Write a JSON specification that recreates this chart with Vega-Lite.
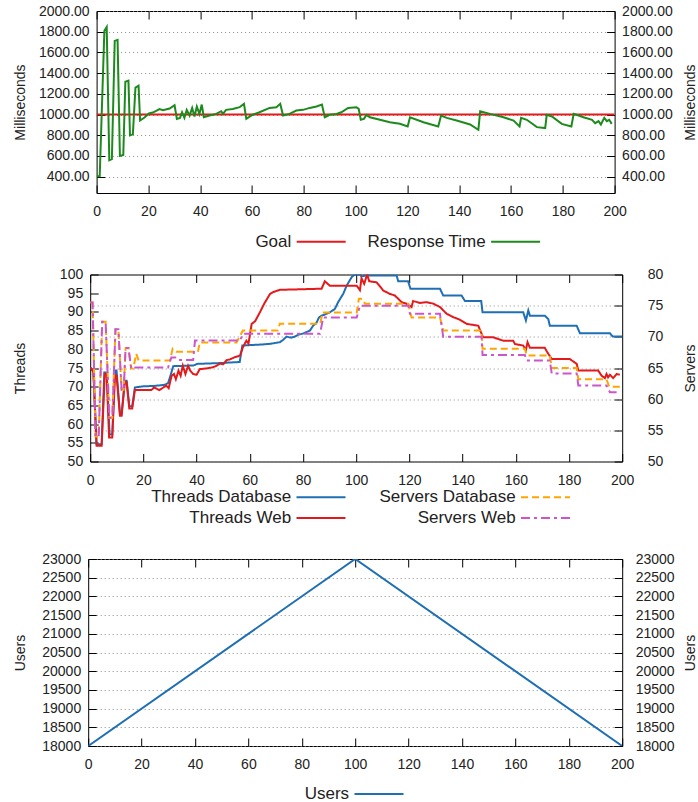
{
  "$schema": "https://vega.github.io/schema/vega-lite/v6.json",
  "padding": {"left": 13, "top": 3, "right": 0, "bottom": 0},
  "spacing": 15.5,
  "center": true,
  "resolve": {"scale": {"color": "independent", "strokeDash": "independent"}, "legend": {"color": "independent", "strokeDash": "independent"}},
  "config": {
    "font": "Liberation Sans",
    "view": {"stroke": "#000000", "strokeWidth": 1},
    "axis": {
      "domain": false, "grid": false, "ticks": true, "tickColor": "#000000", "tickSize": -8, "tickWidth": 1,
      "labelFont": "Liberation Sans", "labelFontSize": 14, "labelColor": "#222222",
      "titleFont": "Liberation Sans", "titleFontSize": 14, "titleFontWeight": "normal", "titleColor": "#222222",
      "gridColor": "#8c8c8c", "gridDash": [1, 3], "gridWidth": 1,
      "labelOverlap": false, "labelFlush": false
    },
    "axisBottom": {"labelPadding": 19.5},
    "axisLeft": {"labelPadding": 15.5},
    "axisRight": {"labelPadding": 15},
    "legend": {"labelFont": "Liberation Sans", "labelFontSize": 17, "labelColor": "#222222"}
  },
  "datasets": {
    "goal": [{"t": 0, "ms": 1000, "series": "Goal"}, {"t": 200, "ms": 1000, "series": "Goal"}],
    "resp": [
      {"t":0,"ms":405,"series":"Response Time"},{"t":1.2,"ms":405,"series":"Response Time"},{"t":3.0,"ms":1808,"series":"Response Time"},{"t":3.9,"ms":1846,"series":"Response Time"},{"t":4.9,"ms":558,"series":"Response Time"},{"t":5.9,"ms":570,"series":"Response Time"},
      {"t":7.0,"ms":1711,"series":"Response Time"},{"t":8.1,"ms":1721,"series":"Response Time"},{"t":9.0,"ms":600,"series":"Response Time"},{"t":10.3,"ms":610,"series":"Response Time"},{"t":11.1,"ms":1317,"series":"Response Time"},{"t":12.3,"ms":1327,"series":"Response Time"},
      {"t":12.9,"ms":798,"series":"Response Time"},{"t":14.0,"ms":808,"series":"Response Time"},{"t":15.0,"ms":1260,"series":"Response Time"},{"t":16.2,"ms":1279,"series":"Response Time"},{"t":16.8,"ms":942,"series":"Response Time"},{"t":18.5,"ms":971,"series":"Response Time"},
      {"t":20.2,"ms":1010,"series":"Response Time"},{"t":21.7,"ms":1019,"series":"Response Time"},{"t":23,"ms":1035,"series":"Response Time"},{"t":24.3,"ms":1052,"series":"Response Time"},{"t":25.6,"ms":1042,"series":"Response Time"},{"t":28.2,"ms":1058,"series":"Response Time"},
      {"t":30.1,"ms":1090,"series":"Response Time"},{"t":31,"ms":958,"series":"Response Time"},{"t":32.2,"ms":968,"series":"Response Time"},{"t":33,"ms":1022,"series":"Response Time"},{"t":33.9,"ms":968,"series":"Response Time"},{"t":34.8,"ms":1045,"series":"Response Time"},
      {"t":35.9,"ms":990,"series":"Response Time"},{"t":36.9,"ms":1064,"series":"Response Time"},{"t":37.8,"ms":981,"series":"Response Time"},{"t":38.7,"ms":1077,"series":"Response Time"},{"t":39.7,"ms":1006,"series":"Response Time"},{"t":40.6,"ms":1096,"series":"Response Time"},
      {"t":41.4,"ms":974,"series":"Response Time"},{"t":43.6,"ms":990,"series":"Response Time"},{"t":46.2,"ms":1006,"series":"Response Time"},{"t":48.1,"ms":1032,"series":"Response Time"},{"t":48.8,"ms":1006,"series":"Response Time"},{"t":50,"ms":1045,"series":"Response Time"},
      {"t":52.6,"ms":1054,"series":"Response Time"},{"t":55.2,"ms":1071,"series":"Response Time"},{"t":56.9,"ms":1103,"series":"Response Time"},{"t":57.8,"ms":958,"series":"Response Time"},{"t":60.4,"ms":1000,"series":"Response Time"},{"t":62.9,"ms":1022,"series":"Response Time"},
      {"t":66.8,"ms":1064,"series":"Response Time"},{"t":69.4,"ms":1071,"series":"Response Time"},{"t":70.9,"ms":1103,"series":"Response Time"},{"t":72,"ms":990,"series":"Response Time"},{"t":74.5,"ms":1006,"series":"Response Time"},{"t":77.1,"ms":1038,"series":"Response Time"},
      {"t":79.7,"ms":1045,"series":"Response Time"},{"t":82.3,"ms":1064,"series":"Response Time"},{"t":84.9,"ms":1077,"series":"Response Time"},{"t":87,"ms":1096,"series":"Response Time"},{"t":88.1,"ms":974,"series":"Response Time"},{"t":90,"ms":997,"series":"Response Time"},
      {"t":92.6,"ms":1006,"series":"Response Time"},{"t":94.5,"ms":1022,"series":"Response Time"},{"t":97.1,"ms":1064,"series":"Response Time"},{"t":100.3,"ms":1071,"series":"Response Time"},{"t":101.2,"ms":1054,"series":"Response Time"},{"t":102,"ms":949,"series":"Response Time"},
      {"t":103.2,"ms":958,"series":"Response Time"},{"t":104.2,"ms":997,"series":"Response Time"},{"t":105.5,"ms":974,"series":"Response Time"},{"t":109.4,"ms":949,"series":"Response Time"},{"t":113.2,"ms":926,"series":"Response Time"},{"t":117.1,"ms":910,"series":"Response Time"},
      {"t":120.1,"ms":885,"series":"Response Time"},{"t":121,"ms":974,"series":"Response Time"},{"t":126.2,"ms":926,"series":"Response Time"},{"t":131.9,"ms":885,"series":"Response Time"},{"t":133,"ms":990,"series":"Response Time"},{"t":135.2,"ms":968,"series":"Response Time"},
      {"t":139,"ms":942,"series":"Response Time"},{"t":144.2,"ms":904,"series":"Response Time"},{"t":147.4,"ms":852,"series":"Response Time"},{"t":148.1,"ms":1032,"series":"Response Time"},{"t":151.9,"ms":1006,"series":"Response Time"},{"t":157.1,"ms":974,"series":"Response Time"},
      {"t":161,"ms":942,"series":"Response Time"},{"t":163.3,"ms":885,"series":"Response Time"},{"t":163.9,"ms":968,"series":"Response Time"},{"t":166.1,"ms":949,"series":"Response Time"},{"t":170,"ms":878,"series":"Response Time"},{"t":173.2,"ms":869,"series":"Response Time"},
      {"t":173.8,"ms":997,"series":"Response Time"},{"t":175.8,"ms":981,"series":"Response Time"},{"t":179.6,"ms":910,"series":"Response Time"},{"t":183.3,"ms":885,"series":"Response Time"},{"t":184.2,"ms":1006,"series":"Response Time"},{"t":188,"ms":974,"series":"Response Time"},
      {"t":191.3,"ms":949,"series":"Response Time"},{"t":192.5,"ms":917,"series":"Response Time"},{"t":193.8,"ms":936,"series":"Response Time"},{"t":194.7,"ms":904,"series":"Response Time"},{"t":196,"ms":968,"series":"Response Time"},{"t":197,"ms":936,"series":"Response Time"},
      {"t":197.9,"ms":949,"series":"Response Time"},{"t":198.9,"ms":910,"series":"Response Time"}
    ],
    "threads": [
      {"t":0,"v":75.2,"series":"Threads Database"},{"t":1.2,"v":74,"series":"Threads Database"},{"t":2.4,"v":54.6,"series":"Threads Database"},{"t":4.3,"v":54.6,"series":"Threads Database"},
      {"t":5.3,"v":73.8,"series":"Threads Database"},{"t":6.2,"v":73.8,"series":"Threads Database"},{"t":7.3,"v":57.2,"series":"Threads Database"},{"t":8.3,"v":57.2,"series":"Threads Database"},
      {"t":9.3,"v":74.3,"series":"Threads Database"},{"t":9.9,"v":74.3,"series":"Threads Database"},{"t":11.2,"v":62.6,"series":"Threads Database"},{"t":11.8,"v":62.6,"series":"Threads Database"},
      {"t":13,"v":71.6,"series":"Threads Database"},{"t":13.7,"v":71.6,"series":"Threads Database"},{"t":14.7,"v":64.8,"series":"Threads Database"},{"t":15.8,"v":64.8,"series":"Threads Database"},
      {"t":16.8,"v":69.8,"series":"Threads Database"},{"t":20,"v":70.1,"series":"Threads Database"},{"t":24,"v":70.2,"series":"Threads Database"},{"t":28,"v":70.5,"series":"Threads Database"},
      {"t":29.3,"v":71,"series":"Threads Database"},{"t":30.2,"v":73,"series":"Threads Database"},{"t":31.2,"v":75.5,"series":"Threads Database"},{"t":36,"v":75.6,"series":"Threads Database"},
      {"t":39,"v":75.7,"series":"Threads Database"},{"t":40.2,"v":76.1,"series":"Threads Database"},{"t":48,"v":76.3,"series":"Threads Database"},{"t":56.2,"v":76.6,"series":"Threads Database"},
      {"t":57.2,"v":81,"series":"Threads Database"},{"t":62,"v":81.2,"series":"Threads Database"},{"t":65,"v":81.3,"series":"Threads Database"},{"t":68,"v":81.5,"series":"Threads Database"},
      {"t":71.3,"v":81.9,"series":"Threads Database"},{"t":72.5,"v":82.5,"series":"Threads Database"},{"t":73.8,"v":83.4,"series":"Threads Database"},{"t":75.5,"v":83.1,"series":"Threads Database"},
      {"t":77,"v":83.4,"series":"Threads Database"},{"t":78.2,"v":83.9,"series":"Threads Database"},{"t":80,"v":84.2,"series":"Threads Database"},{"t":82.6,"v":85,"series":"Threads Database"},
      {"t":83.8,"v":86.3,"series":"Threads Database"},{"t":85,"v":87,"series":"Threads Database"},{"t":86,"v":88.5,"series":"Threads Database"},{"t":87,"v":89,"series":"Threads Database"},
      {"t":88.2,"v":89.3,"series":"Threads Database"},{"t":90.1,"v":89.9,"series":"Threads Database"},{"t":92,"v":90.8,"series":"Threads Database"},{"t":93.2,"v":92.6,"series":"Threads Database"},
      {"t":95.1,"v":94.8,"series":"Threads Database"},{"t":96.4,"v":97,"series":"Threads Database"},{"t":98.3,"v":99.3,"series":"Threads Database"},{"t":99.5,"v":100,"series":"Threads Database"},
      {"t":101.4,"v":100,"series":"Threads Database"},{"t":102,"v":99.5,"series":"Threads Database"},{"t":103.3,"v":99.7,"series":"Threads Database"},{"t":115.2,"v":99.7,"series":"Threads Database"},
      {"t":115.8,"v":98.2,"series":"Threads Database"},{"t":119.5,"v":98.2,"series":"Threads Database"},{"t":120.4,"v":96.2,"series":"Threads Database"},{"t":131.5,"v":96.2,"series":"Threads Database"},
      {"t":132.7,"v":94.4,"series":"Threads Database"},{"t":139.6,"v":94.4,"series":"Threads Database"},{"t":140.9,"v":92.9,"series":"Threads Database"},{"t":147,"v":92.9,"series":"Threads Database"},
      {"t":147.5,"v":89.9,"series":"Threads Database"},{"t":162.8,"v":89.9,"series":"Threads Database"},{"t":163.8,"v":87.7,"series":"Threads Database"},{"t":164.7,"v":90.4,"series":"Threads Database"},
      {"t":165.3,"v":89,"series":"Threads Database"},{"t":170.9,"v":89,"series":"Threads Database"},{"t":172.2,"v":88.1,"series":"Threads Database"},{"t":172.8,"v":86.3,"series":"Threads Database"},
      {"t":182.9,"v":86.3,"series":"Threads Database"},{"t":184.1,"v":84.3,"series":"Threads Database"},{"t":195.4,"v":84.3,"series":"Threads Database"},{"t":196.4,"v":83.4,"series":"Threads Database"},
      {"t":200,"v":83.4,"series":"Threads Database"},
      {"t":0,"v":75.2,"series":"Threads Web"},{"t":1.2,"v":74,"series":"Threads Web"},{"t":2.4,"v":54.2,"series":"Threads Web"},{"t":4.3,"v":54.2,"series":"Threads Web"},
      {"t":5.5,"v":73.4,"series":"Threads Web"},{"t":6.2,"v":73.4,"series":"Threads Web"},{"t":7.1,"v":56.4,"series":"Threads Web"},{"t":8.3,"v":56.4,"series":"Threads Web"},
      {"t":9.3,"v":73,"series":"Threads Web"},{"t":9.9,"v":73,"series":"Threads Web"},{"t":11.2,"v":62.2,"series":"Threads Web"},{"t":11.8,"v":62.2,"series":"Threads Web"},
      {"t":13,"v":71.2,"series":"Threads Web"},{"t":13.7,"v":71.2,"series":"Threads Web"},{"t":14.7,"v":64.2,"series":"Threads Web"},{"t":15.8,"v":64.2,"series":"Threads Web"},
      {"t":16.8,"v":69.1,"series":"Threads Web"},{"t":23,"v":69.1,"series":"Threads Web"},{"t":24,"v":69.8,"series":"Threads Web"},{"t":26,"v":69.1,"series":"Threads Web"},
      {"t":28.6,"v":70.3,"series":"Threads Web"},{"t":29.5,"v":69.6,"series":"Threads Web"},{"t":30.6,"v":72.9,"series":"Threads Web"},{"t":31.5,"v":73.4,"series":"Threads Web"},
      {"t":32.2,"v":72,"series":"Threads Web"},{"t":33.2,"v":74.3,"series":"Threads Web"},{"t":34,"v":72.9,"series":"Threads Web"},{"t":34.8,"v":75.6,"series":"Threads Web"},
      {"t":35.8,"v":73.4,"series":"Threads Web"},{"t":36.8,"v":75.6,"series":"Threads Web"},{"t":37.6,"v":74.3,"series":"Threads Web"},{"t":38.7,"v":73.4,"series":"Threads Web"},
      {"t":40,"v":73.2,"series":"Threads Web"},{"t":41.2,"v":74.7,"series":"Threads Web"},{"t":43.8,"v":74.9,"series":"Threads Web"},{"t":46.2,"v":75.2,"series":"Threads Web"},
      {"t":47.5,"v":75.6,"series":"Threads Web"},{"t":48.8,"v":76.2,"series":"Threads Web"},{"t":50,"v":76,"series":"Threads Web"},{"t":51.3,"v":77.1,"series":"Threads Web"},
      {"t":52.5,"v":77.3,"series":"Threads Web"},{"t":54.4,"v":77.9,"series":"Threads Web"},{"t":56.3,"v":78.3,"series":"Threads Web"},{"t":57.5,"v":80.7,"series":"Threads Web"},
      {"t":58.7,"v":82.3,"series":"Threads Web"},{"t":59.5,"v":81.5,"series":"Threads Web"},{"t":60.7,"v":86.8,"series":"Threads Web"},{"t":62,"v":87.5,"series":"Threads Web"},
      {"t":63.8,"v":89.9,"series":"Threads Web"},{"t":65.5,"v":92.3,"series":"Threads Web"},{"t":67.6,"v":94.8,"series":"Threads Web"},{"t":68.8,"v":95.3,"series":"Threads Web"},
      {"t":71.3,"v":95.9,"series":"Threads Web"},{"t":87,"v":96.2,"series":"Threads Web"},{"t":88.2,"v":98.2,"series":"Threads Web"},{"t":90.1,"v":97,"series":"Threads Web"},
      {"t":100.2,"v":97,"series":"Threads Web"},{"t":101.4,"v":95.8,"series":"Threads Web"},{"t":102,"v":99,"series":"Threads Web"},{"t":103,"v":97.5,"series":"Threads Web"},
      {"t":104.1,"v":100,"series":"Threads Web"},{"t":104.9,"v":98.2,"series":"Threads Web"},{"t":107.7,"v":97.9,"series":"Threads Web"},{"t":110.2,"v":95.7,"series":"Threads Web"},
      {"t":112.7,"v":94.8,"series":"Threads Web"},{"t":114.5,"v":94.4,"series":"Threads Web"},{"t":117.1,"v":92.6,"series":"Threads Web"},{"t":118.9,"v":92.2,"series":"Threads Web"},
      {"t":120.8,"v":91.3,"series":"Threads Web"},{"t":121.4,"v":92.9,"series":"Threads Web"},{"t":124,"v":92.4,"series":"Threads Web"},{"t":126.5,"v":92.6,"series":"Threads Web"},
      {"t":129,"v":92.2,"series":"Threads Web"},{"t":131.5,"v":91.3,"series":"Threads Web"},{"t":134,"v":89.5,"series":"Threads Web"},{"t":136.5,"v":88.6,"series":"Threads Web"},
      {"t":139,"v":87.9,"series":"Threads Web"},{"t":141.5,"v":86.8,"series":"Threads Web"},{"t":145.9,"v":86.3,"series":"Threads Web"},{"t":147.7,"v":83.2,"series":"Threads Web"},
      {"t":151.5,"v":83.2,"series":"Threads Web"},{"t":155.3,"v":82.3,"series":"Threads Web"},{"t":159,"v":82.3,"series":"Threads Web"},{"t":159.7,"v":81.4,"series":"Threads Web"},
      {"t":162.8,"v":81,"series":"Threads Web"},{"t":163.8,"v":79.8,"series":"Threads Web"},{"t":164.4,"v":81.9,"series":"Threads Web"},{"t":165.3,"v":80.4,"series":"Threads Web"},
      {"t":170.9,"v":80.4,"series":"Threads Web"},{"t":171.6,"v":79.5,"series":"Threads Web"},{"t":173.5,"v":77.4,"series":"Threads Web"},{"t":180.3,"v":77.4,"series":"Threads Web"},
      {"t":182.9,"v":76.1,"series":"Threads Web"},{"t":183.5,"v":74.3,"series":"Threads Web"},{"t":191,"v":74.3,"series":"Threads Web"},{"t":192.3,"v":72.9,"series":"Threads Web"},
      {"t":193.5,"v":72.3,"series":"Threads Web"},{"t":194.1,"v":73.4,"series":"Threads Web"},{"t":194.7,"v":72.5,"series":"Threads Web"},{"t":195.4,"v":73.2,"series":"Threads Web"},
      {"t":196.6,"v":72.3,"series":"Threads Web"},{"t":197.9,"v":73.4,"series":"Threads Web"},{"t":199.1,"v":73.2,"series":"Threads Web"}
    ],
    "servers": [
      {"t":0,"s":75.5,"series":"Servers Database"},{"t":0.9,"s":75.5,"series":"Servers Database"},{"t":2,"s":54,"series":"Servers Database"},{"t":3.2,"s":54,"series":"Servers Database"},
      {"t":4.5,"s":72.4,"series":"Servers Database"},{"t":5.8,"s":72.4,"series":"Servers Database"},{"t":7.2,"s":57,"series":"Servers Database"},{"t":8.3,"s":57,"series":"Servers Database"},
      {"t":9.5,"s":71.2,"series":"Servers Database"},{"t":10.6,"s":71.2,"series":"Servers Database"},{"t":11.8,"s":61.5,"series":"Servers Database"},{"t":12.6,"s":61.5,"series":"Servers Database"},
      {"t":13.3,"s":68.2,"series":"Servers Database"},{"t":14.4,"s":68.2,"series":"Servers Database"},{"t":15.4,"s":64.9,"series":"Servers Database"},{"t":16.2,"s":64.9,"series":"Servers Database"},
      {"t":17.3,"s":67.3,"series":"Servers Database"},{"t":18.2,"s":66.2,"series":"Servers Database"},{"t":30,"s":66.2,"series":"Servers Database"},{"t":31,"s":68.1,"series":"Servers Database"},
      {"t":32.5,"s":67.6,"series":"Servers Database"},{"t":40.5,"s":67.6,"series":"Servers Database"},{"t":41.2,"s":69.1,"series":"Servers Database"},{"t":55,"s":69.1,"series":"Servers Database"},
      {"t":57.4,"s":71,"series":"Servers Database"},{"t":70.5,"s":71,"series":"Servers Database"},{"t":71.3,"s":72.1,"series":"Servers Database"},{"t":86.5,"s":72.1,"series":"Servers Database"},
      {"t":87.3,"s":73.9,"series":"Servers Database"},{"t":100.2,"s":73.9,"series":"Servers Database"},{"t":101,"s":76.1,"series":"Servers Database"},{"t":102.4,"s":76.1,"series":"Servers Database"},
      {"t":103.3,"s":75.3,"series":"Servers Database"},{"t":119.6,"s":75.3,"series":"Servers Database"},{"t":120.8,"s":73.1,"series":"Servers Database"},{"t":131.5,"s":73.1,"series":"Servers Database"},
      {"t":132.7,"s":71,"series":"Servers Database"},{"t":147.1,"s":71,"series":"Servers Database"},{"t":147.5,"s":68.1,"series":"Servers Database"},{"t":163.4,"s":68.1,"series":"Servers Database"},
      {"t":164.1,"s":67,"series":"Servers Database"},{"t":172.8,"s":67,"series":"Servers Database"},{"t":173.5,"s":65,"series":"Servers Database"},{"t":182.9,"s":65,"series":"Servers Database"},
      {"t":183.5,"s":63.2,"series":"Servers Database"},{"t":194.1,"s":63.2,"series":"Servers Database"},{"t":195.1,"s":62,"series":"Servers Database"},{"t":199.1,"s":62,"series":"Servers Database"},
      {"t":0,"s":75.5,"series":"Servers Web"},{"t":0.9,"s":75.5,"series":"Servers Web"},{"t":2,"s":54,"series":"Servers Web"},{"t":3.2,"s":54,"series":"Servers Web"},
      {"t":4.5,"s":72.4,"series":"Servers Web"},{"t":5.8,"s":72.4,"series":"Servers Web"},{"t":7.2,"s":57,"series":"Servers Web"},{"t":8.3,"s":57,"series":"Servers Web"},
      {"t":9.5,"s":71.2,"series":"Servers Web"},{"t":10.6,"s":71.2,"series":"Servers Web"},{"t":11.8,"s":61.5,"series":"Servers Web"},{"t":12.6,"s":61.5,"series":"Servers Web"},
      {"t":13.3,"s":68.2,"series":"Servers Web"},{"t":14.4,"s":68.2,"series":"Servers Web"},{"t":15.4,"s":64.9,"series":"Servers Web"},{"t":16.2,"s":64.9,"series":"Servers Web"},
      {"t":17,"s":65.1,"series":"Servers Web"},{"t":29.3,"s":65.1,"series":"Servers Web"},{"t":30.5,"s":66.7,"series":"Servers Web"},{"t":32,"s":66.7,"series":"Servers Web"},
      {"t":33,"s":66.3,"series":"Servers Web"},{"t":38.7,"s":66.3,"series":"Servers Web"},{"t":39.4,"s":69.4,"series":"Servers Web"},{"t":56.3,"s":69.4,"series":"Servers Web"},
      {"t":57.5,"s":70.5,"series":"Servers Web"},{"t":86.4,"s":70.5,"series":"Servers Web"},{"t":87.6,"s":73.1,"series":"Servers Web"},{"t":100.2,"s":73.1,"series":"Servers Web"},
      {"t":101.4,"s":75,"series":"Servers Web"},{"t":119.6,"s":75,"series":"Servers Web"},{"t":120.2,"s":73.7,"series":"Servers Web"},{"t":131.5,"s":73.7,"series":"Servers Web"},
      {"t":132.7,"s":70,"series":"Servers Web"},{"t":147.1,"s":70,"series":"Servers Web"},{"t":147.5,"s":67.1,"series":"Servers Web"},{"t":163.4,"s":67.1,"series":"Servers Web"},
      {"t":164.1,"s":66.2,"series":"Servers Web"},{"t":172.8,"s":66.2,"series":"Servers Web"},{"t":173.5,"s":64.1,"series":"Servers Web"},{"t":182.9,"s":64.1,"series":"Servers Web"},
      {"t":183.5,"s":62.2,"series":"Servers Web"},{"t":194.1,"s":62.2,"series":"Servers Web"},{"t":195.4,"s":61.1,"series":"Servers Web"},{"t":197.9,"s":61.1,"series":"Servers Web"}
    ],
    "users": [{"t": 0, "u": 18000, "series": "Users"}, {"t": 100, "u": 23000, "series": "Users"}, {"t": 200, "u": 18000, "series": "Users"}]
  },
  "vconcat": [
    {
      "width": 518, "height": 182,
      "layer": [
        {
          "data": {"name": "goal"},
          "mark": {"type": "line", "strokeWidth": 2, "clip": true},
          "encoding": {
            "x": {"field": "t", "type": "quantitative", "scale": {"domain": [0, 200], "nice": false, "zero": false},
                  "axis": {"orient": "top", "labels": false, "title": null, "values": [0,20,40,60,80,100,120,140,160,180,200]}},
            "y": {"field": "ms", "type": "quantitative", "scale": {"domain": [242, 2000], "nice": false, "zero": false},
                  "axis": {"orient": "right", "values": [400,600,800,1000,1200,1400,1600,1800,2000], "format": ".2f", "title": "Milliseconds", "titleAngle": 270, "titleBaseline": "bottom", "titleX": 83.3}},
            "color": {"field": "series", "type": "nominal", "scale": {"domain": ["Goal", "Response Time"], "range": ["#e41a1c", "#1d8a1d"]},
                      "legend": {"orient": "none", "legendX": 216.1, "legendY": 222.1, "direction": "horizontal", "columns": 2, "title": null, "symbolType": "M-5,0H5", "symbolSize": 96, "symbolStrokeWidth": 2, "labelAlign": "right", "labelOffset": -38.4, "columnPadding": 17.4, "padding": 0, "labelLimit": 400}}
          }
        },
        {
          "data": {"name": "resp"},
          "mark": {"type": "line", "strokeWidth": 2, "clip": true},
          "encoding": {
            "x": {"field": "t", "type": "quantitative", "scale": {"domain": [0, 200], "nice": false, "zero": false},
                  "axis": {"orient": "bottom", "title": null, "values": [0,20,40,60,80,100,120,140,160,180,200]}},
            "y": {"field": "ms", "type": "quantitative", "scale": {"domain": [242, 2000], "nice": false, "zero": false},
                  "axis": {"orient": "left", "values": [400,600,800,1000,1200,1400,1600,1800,2000], "format": ".2f", "title": "Milliseconds", "titleAngle": 270, "titleBaseline": "bottom", "titleX": -68.7, "grid": true}},
            "color": {"field": "series", "type": "nominal", "scale": {"domain": ["Goal", "Response Time"], "range": ["#e41a1c", "#1d8a1d"]}}
          }
        }
      ],
      "resolve": {"axis": {"x": "independent", "y": "independent"}}
    },
    {
      "width": 532, "height": 187,
      "layer": [
        {
          "data": {"name": "threads"},
          "mark": {"type": "line", "strokeWidth": 2, "clip": true},
          "encoding": {
            "x": {"field": "t", "type": "quantitative", "scale": {"domain": [0, 200], "nice": false, "zero": false},
                  "axis": {"orient": "bottom", "title": null, "values": [0,20,40,60,80,100,120,140,160,180,200]}},
            "y": {"field": "v", "type": "quantitative", "scale": {"domain": [50, 100], "nice": false, "zero": false},
                  "axis": {"orient": "left", "values": [50,55,60,65,70,75,80,85,90,95,100], "title": "Threads", "titleAngle": 270, "titleBaseline": "bottom", "titleX": -62.3}},
            "color": {"field": "series", "type": "nominal",
                      "scale": {"domain": ["Threads Database", "Servers Database", "Threads Web", "Servers Web"], "range": ["#1f6fb4", "#ffa500", "#e31a1c", "#cc55cc"]},
                      "legend": {"orient": "none", "legendX": 213.6, "legendY": 205.4, "direction": "horizontal", "columns": 2, "title": null, "symbolType": "M-5,0H5", "symbolSize": 96, "symbolStrokeWidth": 2, "labelAlign": "right", "labelOffset": -38.4, "columnPadding": 29.5, "rowPadding": 3, "padding": 8.7, "labelLimit": 400}},
            "strokeDash": {"field": "series", "type": "nominal",
                           "scale": {"domain": ["Threads Database", "Servers Database", "Threads Web", "Servers Web"], "range": [[1, 0], [7, 4], [1, 0], [9, 4, 3, 4]]},
                           "legend": {"orient": "none", "legendX": 213.6, "legendY": 205.4, "direction": "horizontal", "columns": 2, "title": null, "symbolType": "M-5,0H5", "symbolSize": 96, "symbolStrokeWidth": 2, "labelAlign": "right", "labelOffset": -38.4, "columnPadding": 29.5, "rowPadding": 3, "padding": 8.7, "labelLimit": 400}}
          }
        },
        {
          "data": {"name": "servers"},
          "mark": {"type": "line", "strokeWidth": 2, "clip": true},
          "encoding": {
            "x": {"field": "t", "type": "quantitative", "scale": {"domain": [0, 200], "nice": false, "zero": false},
                  "axis": {"orient": "top", "labels": false, "title": " ", "titleX": 614.1, "titleY": 90, "titleAngle": 0, "titleAlign": "right", "titleBaseline": "middle", "values": [0,20,40,60,80,100,120,140,160,180,200]}},
            "y": {"field": "s", "type": "quantitative", "scale": {"domain": [50, 80], "nice": false, "zero": false},
                  "axis": {"orient": "right", "values": [50,55,60,65,70,75,80], "title": "Servers", "titleAngle": 270, "titleBaseline": "bottom", "titleX": 75.7, "grid": true, "labelPadding": 33}},
            "color": {"field": "series", "type": "nominal",
                      "scale": {"domain": ["Threads Database", "Servers Database", "Threads Web", "Servers Web"], "range": ["#1f6fb4", "#ffa500", "#e31a1c", "#cc55cc"]}},
            "strokeDash": {"field": "series", "type": "nominal",
                           "scale": {"domain": ["Threads Database", "Servers Database", "Threads Web", "Servers Web"], "range": [[1, 0], [7, 4], [1, 0], [9, 4, 3, 4]]}}
          }
        }
      ],
      "resolve": {"scale": {"y": "independent"}, "axis": {"x": "independent", "y": "independent"}}
    },
    {
      "width": 534, "height": 187,
      "layer": [
        {
          "data": {"name": "users"},
          "mark": {"type": "line", "strokeWidth": 2, "clip": true},
          "encoding": {
            "x": {"field": "t", "type": "quantitative", "scale": {"domain": [0, 200], "nice": false, "zero": false},
                  "axis": {"orient": "bottom", "title": null, "values": [0,20,40,60,80,100,120,140,160,180,200]}},
            "y": {"field": "u", "type": "quantitative", "scale": {"domain": [18000, 23000], "nice": false, "zero": false},
                  "axis": {"orient": "left", "values": [18000,18500,19000,19500,20000,20500,21000,21500,22000,22500,23000], "format": "d", "title": "Users", "titleAngle": 270, "titleBaseline": "bottom", "titleX": -60.3, "grid": true}},
            "color": {"field": "series", "type": "nominal", "scale": {"domain": ["Users"], "range": ["#1f6fb4"]},
                      "legend": {"orient": "none", "legendX": 282.3, "legendY": 226.5, "direction": "horizontal", "columns": 1, "title": null, "symbolType": "M-5,0H5", "symbolSize": 96, "symbolStrokeWidth": 2, "labelAlign": "right", "labelOffset": -38.4, "padding": 0, "labelLimit": 400}}
          }
        },
        {
          "data": {"name": "users"},
          "mark": {"type": "line", "strokeWidth": 2, "opacity": 0},
          "encoding": {
            "x": {"field": "t", "type": "quantitative", "scale": {"domain": [0, 200], "nice": false, "zero": false},
                  "axis": {"orient": "top", "labels": false, "title": " ", "titleX": 618.1, "titleY": 90, "titleAngle": 0, "titleAlign": "right", "titleBaseline": "middle", "values": [0,20,40,60,80,100,120,140,160,180,200]}},
            "y": {"field": "u", "type": "quantitative", "scale": {"domain": [18000, 23000], "nice": false, "zero": false},
                  "axis": {"orient": "right", "values": [18000,18500,19000,19500,20000,20500,21000,21500,22000,22500,23000], "format": "d", "title": "Users", "titleAngle": 270, "titleBaseline": "bottom", "titleX": 75.7, "labelPadding": 21}}
          }
        }
      ],
      "resolve": {"axis": {"x": "independent", "y": "independent"}}
    }
  ]
}
